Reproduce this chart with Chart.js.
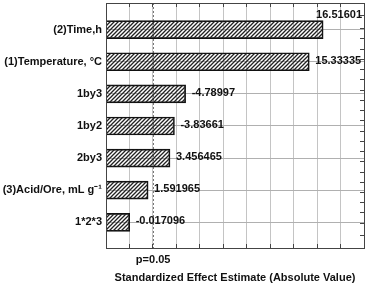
<!DOCTYPE html>
<html>
<head>
<meta charset="utf-8">
<script src="https://cdn.jsdelivr.net/npm/chart.js@4/dist/chart.umd.min.js"></script>
<style>
  html, body { margin: 0; padding: 0; background: #fff; }
  #wrap { width: 369px; height: 289px; }
</style>
</head>
<body>
<div id="wrap"><canvas id="grafico" width="369" height="289"></canvas></div>
<script>
// datos del grafico de Pareto
const factores = ['(2)Time,h', '(1)Temperature, °C', '1by3', '1by2', '2by3', '(3)Acid/Ore, mL g⁻¹', '1*2*3'];
const efectos = [16.51601, 15.33335, -4.78997, -3.83661, 3.456465, 1.591965, -0.017096];
const pCritico = 2.02;
const ejeMin = -2, ejeMax = 20, ejePaso = 2;

const fuente = 'Liberation Sans, Arial, sans-serif';

// patron rayado para las barras
function crearRayado() {
    const c = document.createElement('canvas');
    c.width = 4; c.height = 4;
    const g = c.getContext('2d');
    g.strokeStyle = '#222';
    g.lineWidth = 1.3;
    g.beginPath();
    g.moveTo(-1, 5); g.lineTo(5, -1);
    g.moveTo(-1, 1); g.lineTo(1, -1);
    g.moveTo(3, 5); g.lineTo(5, 3);
    g.stroke();
    return g.createPattern(c, 'repeat');
}

// marco y etiquetas de valores
const extras = {
    id: 'extras',
    afterDatasetsDraw(chart) {
        const ctx = chart.ctx;
        const area = chart.chartArea;
        const meta = chart.getDatasetMeta(0);
        ctx.save();
        ctx.font = 'bold 11px ' + fuente;
        ctx.fillStyle = '#111';
        ctx.textBaseline = 'middle';
        meta.data.forEach((bar, i) => {
            const txt = String(efectos[i]);
            const w = ctx.measureText(txt).width;
            let x = bar.x + 6;
            let y = bar.y - 1;
            if (x + w > area.right - 2) {
                x = area.right - w - 2;
                y = bar.y - bar.height / 2 - 6;
            }
            ctx.fillText(txt, x, y);
        });
        ctx.strokeStyle = '#444';
        ctx.lineWidth = 1;
        ctx.strokeRect(Math.round(area.left) + 0.5, Math.round(area.top) + 0.5,
            Math.round(area.right - area.left), Math.round(area.bottom - area.top));
        ctx.restore();
    }
};

const ctx = document.getElementById('grafico').getContext('2d');
const miGrafico = new Chart(ctx, {
    type: 'bar',
    data: {
        datasets: [{
            data: efectos.map((v, i) => ({ x: Math.abs(v), y: i })),
            base: ejeMin,
            backgroundColor: crearRayado(),
            borderColor: '#111',
            borderWidth: 1,
            barThickness: 18
        }]
    },
    options: {
        indexAxis: 'y',
        responsive: false,
        animation: false,
        events: [],
        layout: { padding: { top: 3, right: 5, left: 0, bottom: 0 } },
        plugins: { legend: { display: false }, tooltip: { enabled: false } },
        scales: {
            x: {
                type: 'linear',
                min: ejeMin, max: ejeMax,
                ticks: { display: false, stepSize: ejePaso },
                grid: { color: '#c4c4c4', tickColor: '#444', tickLength: -4 },
                border: { display: false },
                afterFit: s => { s.height = 0; s.paddingLeft = 0; s.paddingRight = 0; }
            },
            xTop: {
                type: 'linear',
                position: 'top',
                min: ejeMin, max: ejeMax,
                ticks: { display: false, stepSize: ejePaso },
                grid: { drawOnChartArea: false, color: '#444', tickLength: -4 },
                border: { display: false },
                afterFit: s => { s.height = 0; s.paddingLeft = 0; s.paddingRight = 0; }
            },
            x2: {
                type: 'linear',
                position: 'bottom',
                min: ejeMin, max: ejeMax,
                afterBuildTicks: s => { s.ticks = [{ value: pCritico }]; },
                ticks: {
                    callback: () => 'p=0.05',
                    font: { family: fuente, size: 11, weight: 'bold' },
                    color: '#111',
                    padding: 5,
                    maxRotation: 0
                },
                grid: { color: '#777', drawTicks: false },
                border: { display: false, dash: [2, 2] },
                title: {
                    display: true,
                    text: 'Standardized Effect Estimate (Absolute Value)',
                    font: { family: fuente, size: 11, weight: 'bold' },
                    color: '#111',
                    padding: { top: 4, bottom: 4 }
                },
                afterFit: s => { s.height = 41; s.paddingLeft = 0; s.paddingRight = 0; }
            },
            y: {
                type: 'linear',
                reverse: true,
                offset: false,
                min: -0.83, max: 6.8,
                afterBuildTicks: s => { s.ticks = factores.map((_, i) => ({ value: i })); },
                ticks: {
                    callback: v => factores[v],
                    font: { family: fuente, size: 11, weight: 'bold' },
                    color: '#111',
                    padding: 4
                },
                grid: { color: '#b0b0b0', drawTicks: false, offset: false },
                border: { display: false },
                afterFit: s => { s.width = 106; s.paddingTop = 0; s.paddingBottom = 0; }
            },
            y2: {
                type: 'linear',
                position: 'right',
                reverse: true,
                min: -0.83, max: 6.8,
                ticks: { display: false, stepSize: 1 / 3 },
                grid: { drawOnChartArea: false, color: '#444', tickLength: -4 },
                border: { display: false },
                afterFit: s => { s.width = 0; s.paddingTop = 0; s.paddingBottom = 0; }
            }
        }
    },
    plugins: [extras]
});
</script>
</body>
</html>
